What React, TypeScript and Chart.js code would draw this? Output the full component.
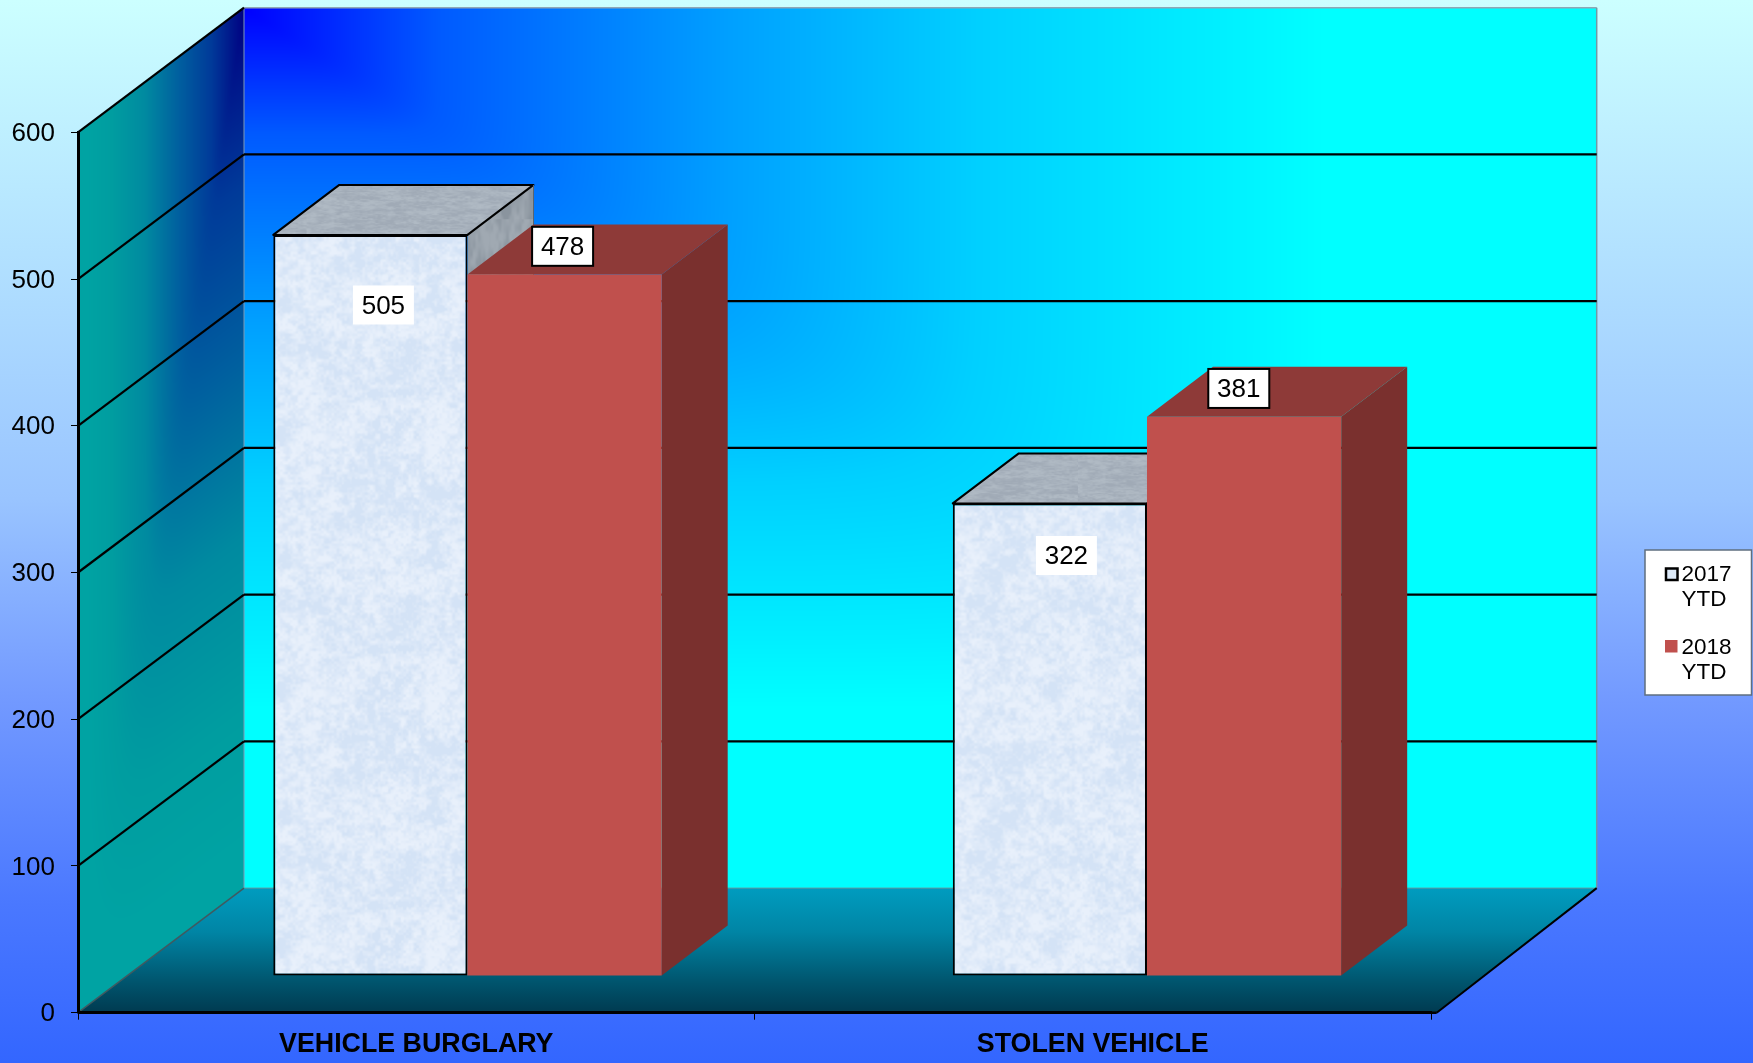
import React, { useEffect, useRef } from "react";
import { Chart, registerables } from "chart.js";

Chart.register(...registerables);

const categories = ["VEHICLE BURGLARY", "STOLEN VEHICLE"];
const seriesNames = [["2017", "YTD"], ["2018", "YTD"]];
const values2017 = [505, 322];
const values2018 = [478, 381];
const yTicks = [0, 100, 200, 300, 400, 500, 600];

const FONT = '"Liberation Sans", Arial, sans-serif';
const W = 1753;
const H = 1063;
// depth geometry of the pseudo-3D box
const WALL_DX = 166;
const WALL_DY = 124.6;
const BAR_STRETCH = 1.00443;
const BAR_SHIFT = 49.4;
const BAR_DY = -36.8;
const BAR_DEPTH_X = 65.7;
const BAR_DEPTH_Y = 50;
// label box nudges relative to [bar centre, bar top]
const labelOffsets = [
  [[13, 70.1], [-2, -28.2]],
  [[16.5, 52.1], [-5.3, -28.4]],
];
const labelBorders = [false, true];

// colour ramps of the two walls: [position, g, b]
const backRamp = [[0, 0, 255], [0.18, 90, 255], [0.45, 160, 255], [0.68, 208, 255], [0.9, 239, 255], [1, 255, 255]];
const sideRamp = [[0, 0, 130], [0.2, 58, 153], [0.4, 96, 159], [0.6, 138, 160], [0.8, 157, 160], [0.95, 163, 163], [1, 163, 163]];

let faces: any[] = [];
let backCanvas: HTMLCanvasElement | null = null;
let sideCanvas: HTMLCanvasElement | null = null;

function rampAt(ramp: number[][], r: number) {
  const t = Math.min(1, Math.max(0, r));
  for (let i = 1; i < ramp.length; i++) {
    if (t <= ramp[i][0]) {
      const a = ramp[i - 1], b = ramp[i];
      const k = (t - a[0]) / (b[0] - a[0]);
      return [a[1] + (b[1] - a[1]) * k, a[2] + (b[2] - a[2]) * k];
    }
  }
  return [ramp[ramp.length - 1][1], ramp[ramp.length - 1][2]];
}
function softMax(a: number, b: number) {
  const p = 10;
  return Math.pow(Math.pow(a, p) + Math.pow(b, p), 1 / p);
}
function renderField(w: number, h: number, fn: (x: number, y: number) => number, ramp: number[][]) {
  const cv = document.createElement("canvas");
  cv.width = w;
  cv.height = h;
  const c = cv.getContext("2d")!;
  const img = c.createImageData(w, h);
  for (let y = 0; y < h; y++) {
    for (let x = 0; x < w; x++) {
      const [g, b] = rampAt(ramp, fn(x, y));
      const i = (y * w + x) * 4;
      img.data[i + 1] = g;
      img.data[i + 2] = b;
      img.data[i + 3] = 255;
    }
  }
  c.putImageData(img, 0, 0);
  return cv;
}

function hash(x: number, y: number) {
  const s = Math.sin(x * 127.1 + y * 311.7) * 43758.5453;
  return s - Math.floor(s);
}
function vnoise(x: number, y: number, period: number) {
  const xi = Math.floor(x), yi = Math.floor(y);
  const fx = x - xi, fy = y - yi;
  const u = fx * fx * (3 - 2 * fx), v = fy * fy * (3 - 2 * fy);
  const p = (a: number) => ((a % period) + period) % period;
  const a = hash(p(xi), p(yi)), b = hash(p(xi + 1), p(yi));
  const c = hash(p(xi), p(yi + 1)), d = hash(p(xi + 1), p(yi + 1));
  return a + (b - a) * u + (c - a) * v + (a - b - c + d) * u * v;
}
function makeTexture(light: number[], dark: number[], stretchY = 1) {
  const size = 256;
  const cv = document.createElement("canvas");
  cv.width = size;
  cv.height = size;
  const c = cv.getContext("2d")!;
  const img = c.createImageData(size, size);
  const oct = (f: number, x: number, y: number) =>
    vnoise((x / size) * f, (y / size) * f * stretchY, Math.max(f, f * stretchY));
  for (let y = 0; y < size; y++) {
    for (let x = 0; x < size; x++) {
      const n = 0.3 * oct(12, x, y) + 0.4 * oct(40, x, y) + 0.3 * oct(100, x, y);
      const t = Math.min(1, Math.max(0, (n - 0.3) * 2.5));
      const i = (y * size + x) * 4;
      for (let k = 0; k < 3; k++) img.data[i + k] = light[k] + (dark[k] - light[k]) * t;
      img.data[i + 3] = 255;
    }
  }
  c.putImageData(img, 0, 0);
  return c.createPattern(cv, "repeat")!;
}

function poly(ctx: CanvasRenderingContext2D, pts: number[][]) {
  ctx.beginPath();
  pts.forEach((p, i) => (i ? ctx.lineTo(p[0], p[1]) : ctx.moveTo(p[0], p[1])));
  ctx.closePath();
}
function line(ctx: CanvasRenderingContext2D, x0: number, y0: number, x1: number, y1: number, color: string, w: number) {
  ctx.strokeStyle = color;
  ctx.lineWidth = w;
  ctx.beginPath();
  ctx.moveTo(x0, y0);
  ctx.lineTo(x1, y1);
  ctx.stroke();
}

const stagePlugin = {
  id: "stage",
  beforeDraw(chart: any) {
    const { ctx, chartArea: a, scales } = chart;
    const y = scales.y;
    ctx.save();
    // page background
    const bg = ctx.createLinearGradient(0, 0, 0, H);
    bg.addColorStop(0, "#CCFFFF");
    bg.addColorStop(0.47, "#99C4FF");
    bg.addColorStop(0.66, "#7299FF");
    bg.addColorStop(0.85, "#4A78FF");
    bg.addColorStop(1, "#3366FF");
    ctx.fillStyle = bg;
    ctx.fillRect(0, 0, W, H);

    const backL = a.left + WALL_DX;
    const floorR = a.right + 5.7;
    const backR = floorR + 160;
    const backT = a.top - WALL_DY;
    const backB = a.bottom - WALL_DY;

    // back wall: rectangular gradient out of its top-left corner
    if (!backCanvas) {
      backCanvas = renderField(
        Math.ceil(backR - backL),
        Math.ceil(backB - backT),
        (x, yy) => softMax(x / 1080, yy / 700),
        backRamp
      );
    }
    ctx.drawImage(backCanvas, backL, backT);

    // side wall: same idea, sheared along the wall
    if (!sideCanvas) {
      const h = Math.ceil(a.bottom - backT);
      const slope = WALL_DY / WALL_DX;
      sideCanvas = renderField(
        WALL_DX,
        h,
        (x, yy) => {
          const u = (WALL_DX - x) / WALL_DX;
          const v = (yy - (WALL_DX - x) * slope) / (a.bottom - a.top);
          return softMax(u, Math.max(0, v));
        },
        sideRamp
      );
    }
    ctx.save();
    poly(ctx, [[a.left, a.top], [backL, backT], [backL, backB], [a.left, a.bottom]]);
    ctx.clip();
    ctx.drawImage(sideCanvas, a.left, backT);
    ctx.restore();

    // floor
    const fg = ctx.createLinearGradient(0, backB, 0, a.bottom);
    fg.addColorStop(0, "#009CBF");
    fg.addColorStop(0.35, "#0085A5");
    fg.addColorStop(0.75, "#00556E");
    fg.addColorStop(1, "#003A50");
    ctx.fillStyle = fg;
    poly(ctx, [[a.left, a.bottom], [backL, backB], [backR, backB], [floorR, a.bottom]]);
    ctx.fill();

    // wall edges
    line(ctx, backL, backT, backR, backT, "#8FA6B5", 1.5);
    line(ctx, backR, backT, backR, backB, "#6F9AA5", 1.5);
    line(ctx, backL, backT, backL, backB, "#7F9AB5", 1);
    line(ctx, backL, backB, backR, backB, "#5F9A9F", 1);
    line(ctx, a.left, a.bottom, backL, backB, "#3F5A60", 1.5);
    line(ctx, floorR, a.bottom, backR, backB, "#000000", 2);

    // gridlines on both walls, from the value axis
    yTicks.forEach((v) => {
      if (v === 0) return;
      const p = y.getPixelForValue(v);
      line(ctx, a.left, p, backL, p - WALL_DY, "#000000", 2.2);
      if (v < 600) line(ctx, backL, p - WALL_DY, backR, p - WALL_DY, "#000000", 2.2);
    });
    ctx.restore();
  },
  beforeDatasetsDraw(chart: any) {
    const { ctx } = chart;
    ctx.save();
    ctx.transform(BAR_STRETCH, 0, 0, 1, BAR_SHIFT, BAR_DY);
    chart.getSortedVisibleDatasetMetas().forEach((meta: any, di: number) => {
      const f = faces[di];
      meta.data.forEach((el: any) => {
        const { x, y, base, width } = el.getProps(["x", "y", "base", "width"], true);
        const l = x - width / 2, r = x + width / 2;
        const top = [[l, y], [l + BAR_DEPTH_X, y - BAR_DEPTH_Y], [r + BAR_DEPTH_X, y - BAR_DEPTH_Y], [r, y]];
        const side = [[r, y], [r + BAR_DEPTH_X, y - BAR_DEPTH_Y], [r + BAR_DEPTH_X, base - BAR_DEPTH_Y], [r, base]];
        ctx.fillStyle = f.side;
        poly(ctx, side);
        ctx.fill();
        ctx.fillStyle = f.top;
        poly(ctx, top);
        ctx.fill();
        if (f.edge) {
          ctx.strokeStyle = f.edge;
          ctx.lineWidth = 2;
          ctx.lineJoin = "round";
          poly(ctx, top);
          ctx.stroke();
          line(ctx, r + BAR_DEPTH_X, y - BAR_DEPTH_Y, r + BAR_DEPTH_X, base - BAR_DEPTH_Y, "#5A646E", 1);
        }
      });
      meta.controller.draw();
    });
    ctx.restore();
    return false;
  },
  afterDraw(chart: any) {
    const { ctx, chartArea: a } = chart;
    ctx.save();
    // front edge of the floor runs a little past the last tick
    line(ctx, a.left, a.bottom, a.right + 5.7, a.bottom, "#000000", 2.5);

    // value labels
    ctx.font = `26px ${FONT}`;
    ctx.textAlign = "center";
    ctx.textBaseline = "middle";
    chart.getSortedVisibleDatasetMetas().forEach((meta: any, di: number) => {
      meta.data.forEach((el: any, ci: number) => {
        const { x, y } = el.getProps(["x", "y"], true);
        const [ox, oy] = labelOffsets[ci][di];
        const cx = x * BAR_STRETCH + BAR_SHIFT + ox;
        const cy = y + BAR_DY + oy;
        ctx.fillStyle = "#FFFFFF";
        ctx.fillRect(cx - 30.5, cy - 19.5, 61, 39);
        if (labelBorders[di]) {
          ctx.strokeStyle = "#000000";
          ctx.lineWidth = 2;
          ctx.strokeRect(cx - 30.5, cy - 19.5, 61, 39);
        }
        ctx.fillStyle = "#000000";
        ctx.fillText(String(chart.data.datasets[di].data[ci]), cx, cy + 1.5);
      });
    });

    // legend
    ctx.fillStyle = "#FFFFFF";
    ctx.fillRect(1645, 550, 106.5, 145);
    ctx.strokeStyle = "#5F6F80";
    ctx.lineWidth = 1.5;
    ctx.strokeRect(1645, 550, 106.5, 145);
    ctx.font = `22.5px ${FONT}`;
    ctx.textAlign = "left";
    ctx.textBaseline = "alphabetic";
    ctx.fillStyle = "#000000";
    seriesNames.forEach((lines, i) => {
      const y0 = i === 0 ? 581 : 654;
      lines.forEach((t, k) => ctx.fillText(t, 1681.5, y0 + k * 25.4));
    });
    ctx.fillStyle = "#DCE9F8";
    ctx.fillRect(1666, 568.5, 11.5, 11.5);
    ctx.strokeStyle = "#000000";
    ctx.lineWidth = 2.5;
    ctx.strokeRect(1666, 568.5, 11.5, 11.5);
    ctx.fillStyle = "#C0504D";
    ctx.fillRect(1665, 640, 12.5, 12.5);
    ctx.restore();
  },
};

export default function App() {
  const ref = useRef<HTMLCanvasElement>(null);
  useEffect(() => {
    document.body.style.margin = "0";
    const front = makeTexture([232, 240, 251], [212, 227, 246]);
    const topTex = makeTexture([176, 186, 196], [160, 170, 182], 5);
    const sideTex = makeTexture([160, 169, 178], [138, 148, 158], 0.3);
    faces = [
      { top: topTex, side: sideTex, edge: "#000000" },
      { top: "#8E3A38", side: "#7A302E", edge: null },
    ];
    const chart: any = new Chart(ref.current!, {
      type: "bar",
      data: {
        labels: categories,
        datasets: [
          {
            label: "2017 YTD",
            data: values2017,
            backgroundColor: front,
            borderColor: "#000000",
            borderWidth: 2,
            borderSkipped: false,
          },
          {
            label: "2018 YTD",
            data: values2018,
            backgroundColor: "#C0504D",
            borderWidth: 0,
          },
        ],
      } as any,
      plugins: [stagePlugin],
      options: {
        animation: false,
        responsive: false,
        devicePixelRatio: 1,
        layout: { padding: { left: 0, top: 132.3, right: 322, bottom: 0 } },
        datasets: { bar: { barPercentage: 1, categoryPercentage: 0.5716 } },
        plugins: { legend: { display: false }, tooltip: { enabled: false }, title: { display: false } },
        scales: {
          x: {
            grid: { drawOnChartArea: false, color: "#000000", tickLength: 7, lineWidth: 1 },
            border: { color: "#000000", width: 2.5 },
            ticks: { color: "#000000", font: { family: FONT, size: 26.8, weight: "bold" }, padding: 8.5, maxRotation: 0 },
            afterFit(s: any) {
              s.height = 50.3;
              s.paddingLeft = 0;
              s.paddingRight = 0;
            },
          },
          y: {
            min: 0,
            max: 600,
            afterBuildTicks(s: any) {
              s.ticks = yTicks.map((value) => ({ value }));
            },
            grid: { drawOnChartArea: false, color: "#000000", tickLength: 7, lineWidth: 1 },
            border: { color: "#000000", width: 3 },
            ticks: { color: "#000000", font: { family: FONT, size: 26 }, padding: 16, labelOffset: 1.5 },
            afterFit(s: any) {
              s.width = 78;
              s.paddingTop = 0;
              s.paddingBottom = 0;
            },
          },
        },
      } as any,
    } as any);
    return () => chart.destroy();
  }, []);
  return <canvas ref={ref} width={W} height={H} style={{ display: "block" }} />;
}
